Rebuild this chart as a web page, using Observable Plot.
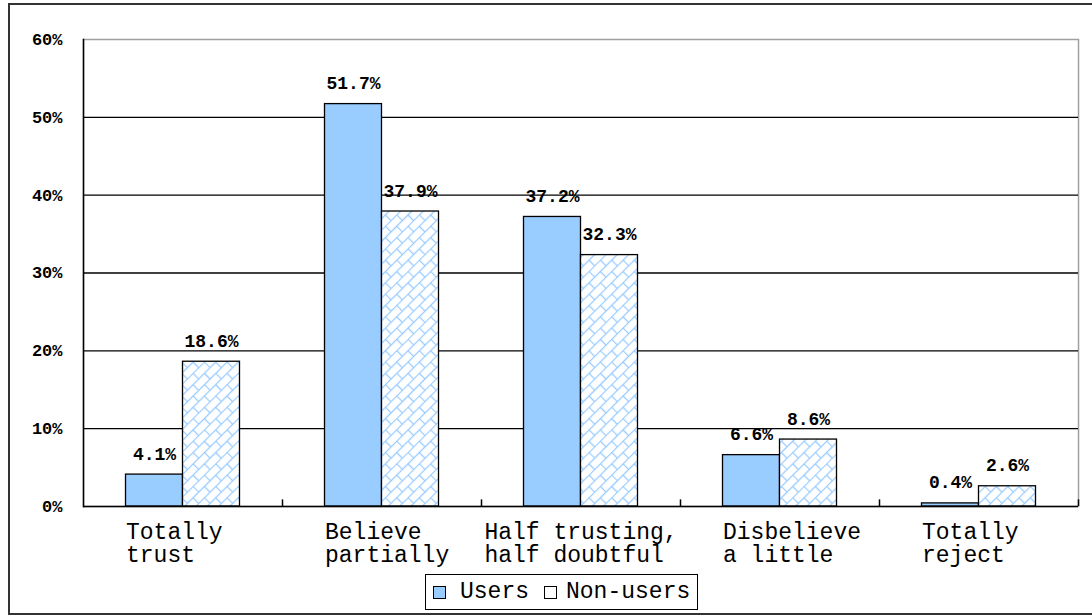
<!DOCTYPE html>
<html><head><meta charset="utf-8">
<script src="https://cdn.jsdelivr.net/npm/d3@7"></script>
<script src="https://cdn.jsdelivr.net/npm/@observablehq/plot@0.6"></script>
<style>
html,body{margin:0;padding:0;background:#fff;overflow:hidden;}
#wrap{position:relative;width:1092px;height:616px;overflow:hidden;background:#fff;}
#border{position:absolute;left:8px;top:3px;width:1084px;height:612px;border:2px solid #333;border-right:none;box-sizing:border-box;}
#chart{position:absolute;left:0;top:0;}
#legend{position:absolute;left:425px;top:574px;width:273px;height:36px;border:1px solid #000;box-sizing:border-box;display:flex;align-items:center;font-family:"Liberation Mono",monospace;font-size:23px;color:#000;background:#fff;}
.sw{display:inline-block;width:11px;height:11px;border:1px solid #000;}
</style></head>
<body>
<div id="wrap">
  <div id="border"></div>
  <div id="chart"></div>
  <div id="legend">
    <span class="sw" style="background:#99ccff;margin-left:7px;margin-right:14px"></span><span id="lg1"></span>
    <span class="sw" style="background:#fff;margin-left:15px;margin-right:9px"></span><span id="lg2"></span>
  </div>
</div>
<script>
const categories = ["Totally trust", "Believe partially", "Half trusting, half doubtful", "Disbelieve a little", "Totally reject"];
const tickLabels = ["Totally\ntrust", "Believe\npartially", "Half trusting,\nhalf doubtful", "Disbelieve\na little", "Totally\nreject"];
const series = ["Users", "Non-users"];
const users = [4.1, 51.7, 37.2, 6.6, 0.4];
const nonUsers = [18.6, 37.9, 32.3, 8.6, 2.6];
const yTicks = [0, 10, 20, 30, 40, 50, 60];

const rows = [];
categories.forEach((c, i) => {
  rows.push({category: c, series: series[0], value: users[i]});
  rows.push({category: c, series: series[1], value: nonUsers[i]});
});

document.getElementById("lg1").textContent = series[0];
document.getElementById("lg2").textContent = series[1];

const W = 1092, H = 572, mL = 83, mR = 14, mT = 39, mB = 66;
const bw = (W - mL - mR) / categories.length;
const barW = 57;
const gap = (bw - 2 * barW) / 2;
const font = "Liberation Mono, DejaVu Sans Mono, monospace";

const uRows = rows.filter(d => d.series === series[0]);
const nRows = rows.filter(d => d.series === series[1]);

const svg = Plot.plot({
  width: W, height: H,
  marginLeft: mL, marginRight: mR, marginTop: mT, marginBottom: mB,
  style: {background: "transparent", fontFamily: font, color: "#000"},
  x: {domain: categories, padding: 0, axis: null},
  y: {domain: [0, 60], axis: null},
  marks: [
    Plot.frame({stroke: "#a0a0a0", strokeWidth: 1.5}),
    Plot.ruleY(yTicks.filter(t => t > 0 && t < 60), {stroke: "#000", strokeWidth: 1.3}),
    Plot.barY(uRows, {x: "category", y: "value", fill: "#99ccff", stroke: "#000", strokeWidth: 1.3,
      insetLeft: gap, insetRight: bw - gap - barW}),
    Plot.barY(nRows, {x: "category", y: "value", fill: "url(#hatch)", stroke: "#000", strokeWidth: 1.3,
      insetLeft: gap + barW, insetRight: gap}),
    Plot.ruleY([0], {stroke: "#000", strokeWidth: 1.5}),
    Plot.frame({anchor: "left", stroke: "#000", strokeWidth: 1.5}),
    Plot.ruleX(categories.slice(1), {x: d => d, dx: -bw / 2, y1: 0, y2: 0.85, stroke: "#000", strokeWidth: 1.5}),
    Plot.ruleX(categories.slice(-1), {x: d => d, dx: bw / 2, y1: 0, y2: 0.85, stroke: "#000", strokeWidth: 1.5}),
    Plot.text(uRows, {x: "category", y: "value", text: d => d.value.toFixed(1) + "%", dx: -barW / 2, dy: -15,
      lineAnchor: "bottom", fontSize: 18, fontWeight: "bold", fontFamily: font, fill: "#000"}),
    Plot.text(nRows, {x: "category", y: "value", text: d => d.value.toFixed(1) + "%", dx: barW / 2, dy: -15,
      lineAnchor: "bottom", fontSize: 18, fontWeight: "bold", fontFamily: font, fill: "#000"}),
    Plot.axisY({ticks: yTicks, tickFormat: d => d + "%", tickSize: 0, tickPadding: 21,
      fontSize: 17, fontWeight: "bold", fontFamily: font, label: null}),
    Plot.axisX({tickSize: 0, tickPadding: 16, textAnchor: "start", dx: -(bw / 2 - gap), lineAnchor: "top",
      fontSize: 23, lineHeight: 1.0, fontFamily: font, label: null,
      tickFormat: d => tickLabels[categories.indexOf(d)]})
  ]
});

// hatch pattern for Non-users
const ns = "http://www.w3.org/2000/svg";
const defs = document.createElementNS(ns, "defs");
defs.innerHTML = `<pattern id="hatch" patternUnits="userSpaceOnUse" width="16" height="16" patternTransform="rotate(-45)">
  <rect width="16" height="16" fill="#fff"/>
  <g stroke="#99ccff" stroke-width="1.3" fill="none">
    <line x1="0" y1="0.5" x2="16" y2="0.5"/>
    <line x1="0" y1="8.5" x2="16" y2="8.5"/>
    <line x1="0.5" y1="0" x2="0.5" y2="8"/>
    <line x1="8.5" y1="8" x2="8.5" y2="16"/>
  </g>
</pattern>`;
svg.insertBefore(defs, svg.firstChild);
document.getElementById("chart").appendChild(svg);

// labels wider than the category's bar pair are centred on the category instead
svg.querySelectorAll('g[aria-label="x-axis tick label"] text').forEach(t => {
  const w = t.getBBox().width;
  if (w > bw * 0.75) {
    const shift = -(w / 2 - (bw / 2 - gap));
    t.setAttribute("transform", (t.getAttribute("transform") || "") + ` translate(${shift},0)`);
  }
});
</script>
</body></html>
